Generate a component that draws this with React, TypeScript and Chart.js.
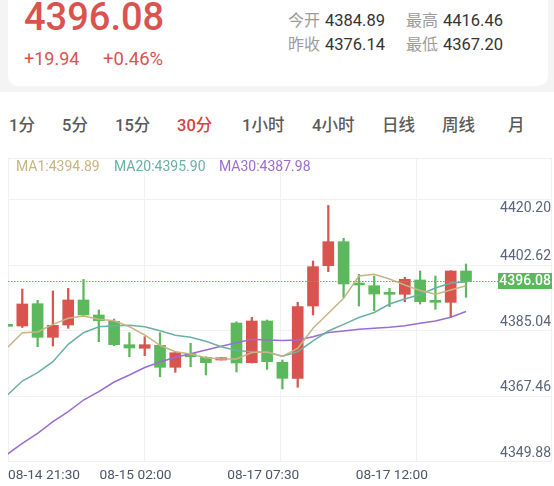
import React, { useEffect, useRef } from 'react';
import { Chart, registerables } from 'chart.js';

Chart.register(...registerables);

// ---- data (30-minute candles) ----
const opens = [4384.5, 4384.09, 4390.08, 4381.05, 4384.35, 4391.07, 4387.04, 4385.35, 4379.07, 4378.10, 4378.90, 4372.99, 4376.65, 4375.67, 4374.95, 4384.89, 4374.23, 4385.43, 4374.34, 4370.04, 4389.46, 4400.28, 4406.73, 4395.55, 4394.91, 4393.03, 4392.60, 4396.44, 4390.88, 4390.45, 4398.86];
const highs = [4384.6, 4394.02, 4390.99, 4393.49, 4394.21, 4396.60, 4388.39, 4385.97, 4382.29, 4381.21, 4382.29, 4377.18, 4379.44, 4375.84, 4375.57, 4385.20, 4386.42, 4385.70, 4374.95, 4390.45, 4401.55, 4416.46, 4407.63, 4397.97, 4397.52, 4394.21, 4397.17, 4398.86, 4397.52, 4398.95, 4400.74];
const lows = [4383.9, 4383.68, 4378.53, 4378.72, 4383.47, 4386.58, 4379.87, 4378.80, 4375.84, 4376.11, 4370.47, 4371.65, 4373.15, 4370.93, 4374.95, 4371.73, 4374.15, 4372.45, 4367.20, 4367.62, 4387.04, 4398.67, 4391.69, 4389.46, 4388.20, 4389.27, 4390.62, 4389.99, 4388.57, 4386.42, 4391.79];
const closes = [4384.0, 4390.00, 4381.05, 4384.27, 4391.07, 4387.04, 4385.51, 4379.07, 4378.18, 4379.07, 4372.99, 4376.91, 4375.84, 4374.23, 4375.57, 4374.15, 4385.43, 4374.50, 4370.04, 4389.27, 4400.02, 4406.73, 4395.37, 4395.10, 4392.68, 4392.60, 4396.63, 4390.62, 4390.45, 4398.86, 4396.08];

const ma1 = [4378.18, 4382.29, 4382.47, 4384.54, 4386.15, 4386.77, 4385.89, 4385.51, 4383.90, 4381.67, 4378.90, 4377.18, 4376.57, 4375.57, 4375.22, 4375.22, 4376.97, 4377.10, 4375.95, 4378.10, 4383.47, 4387.50, 4391.53, 4397.52, 4397.97, 4396.71, 4395.10, 4393.62, 4392.63, 4393.76, 4394.89];
const ma20 = [4365.42, 4369.31, 4371.54, 4374.50, 4379.17, 4382.29, 4383.90, 4384.17, 4384.27, 4383.90, 4382.82, 4381.59, 4381.05, 4379.98, 4378.53, 4377.51, 4377.18, 4377.02, 4375.95, 4377.18, 4380.06, 4382.74, 4384.54, 4386.37, 4387.72, 4390.00, 4391.34, 4392.55, 4394.29, 4395.64, 4395.90];
const ma30 = [4349.57, 4352.58, 4355.27, 4358.38, 4361.07, 4364.21, 4366.44, 4369.04, 4370.92, 4372.94, 4374.42, 4375.68, 4376.62, 4377.64, 4378.63, 4379.60, 4380.51, 4380.33, 4380.19, 4380.33, 4381.21, 4382.34, 4382.74, 4383.20, 4383.47, 4383.74, 4384.17, 4384.81, 4385.43, 4386.42, 4387.98];

const yTickValues = [4420.20, 4402.62, 4385.04, 4367.46, 4349.88];
const xTickLabels = ['08-14 21:30', '08-15 02:00', '08-17 07:30', '08-17 12:00'];
const xTickIndex = [2.4, 8.4, 16.75, 25.15];
const lastPrice = 4396.08;
const legendItems = ['MA1:4394.89', 'MA20:4395.90', 'MA30:4387.98'];
const tabs = ['1分', '5分', '15分', '30分', '1小时', '4小时', '日线', '周线', '月'];

const RED = '#d9534f';
const GREEN = '#5cb85c';
const C_MA1 = '#c9b483';
const C_MA20 = '#6cb0a4';
const C_MA30 = '#9b6dd2';
const FONT = 'Roboto, "Noto Sans CJK SC", sans-serif';

const overlay = {
  id: 'overlay',
  beforeDatasetsDraw(chart: any) {
    const { ctx, chartArea: a } = chart;
    ctx.save();
    ctx.strokeStyle = '#f1f1f1';
    ctx.lineWidth = 1;
    const rowH = 65.5;
    for (let i = 0; i < 5; i++) {
      const y = Math.round(a.bottom - i * rowH) - 0.5;
      ctx.beginPath();
      ctx.moveTo(a.left, y);
      ctx.lineTo(a.right, y);
      ctx.stroke();
    }
    for (let i = 0; i < 5; i++) {
      const x = Math.round(a.left + (i * a.width) / 4) + (i === 4 ? -0.5 : 0.5);
      ctx.beginPath();
      ctx.moveTo(x, a.top);
      ctx.lineTo(x, a.bottom);
      ctx.stroke();
    }
    ctx.restore();
  },
  afterDatasetsDraw(chart: any) {
    const { ctx, chartArea: a, scales } = chart;
    const ys = scales.y;
    const xs = scales.x;
    const rowH = 65.5;
    const paneTop = a.bottom - 4 * rowH;
    ctx.save();
    // y labels
    ctx.font = `14px ${FONT}`;
    ctx.fillStyle = '#5b6479';
    ctx.textAlign = 'right';
    ctx.textBaseline = 'middle';
    yTickValues.forEach((v) => {
      let y = ys.getPixelForValue(v);
      y = Math.max(y, paneTop + 8);
      y = Math.min(y, a.bottom - 8);
      ctx.fillText(v.toFixed(2), a.right - 1, y);
    });
    // last price line & tag
    const py = Math.round(ys.getPixelForValue(lastPrice)) + 0.5;
    ctx.strokeStyle = GREEN;
    ctx.lineWidth = 1;
    ctx.setLineDash([1.5, 1.5]);
    ctx.beginPath();
    ctx.moveTo(a.left, py);
    ctx.lineTo(a.right - 54, py);
    ctx.stroke();
    ctx.setLineDash([]);
    ctx.fillStyle = GREEN;
    ctx.fillRect(a.right - 54, py - 8.5, 54, 16);
    ctx.fillStyle = '#ffffff';
    ctx.font = `500 14px ${FONT}`;
    ctx.fillText(lastPrice.toFixed(2), a.right - 1, py);
    // x labels
    ctx.font = `13.7px ${FONT}`;
    ctx.fillStyle = '#4d5669';
    ctx.textAlign = 'left';
    xTickLabels.forEach((t, i) => {
      const cx = xs.getPixelForValue(xTickIndex[i]);
      const w = ctx.measureText(t).width;
      const left = Math.max(a.left, cx - w / 2);
      ctx.fillText(t, left, a.bottom + 14);
    });
    ctx.restore();
  },
};

function T(props: { x: number; y: number; size: number; color: string; weight?: number; children: any }) {
  return (
    <div
      style={{
        position: 'absolute',
        left: props.x,
        top: props.y,
        fontSize: props.size,
        lineHeight: `${props.size}px`,
        color: props.color,
        fontWeight: props.weight ?? 400,
        whiteSpace: 'nowrap',
      }}
    >
      {props.children}
    </div>
  );
}

export default function App() {
  const ref = useRef<HTMLCanvasElement>(null);

  useEffect(() => {
    const candleColors = opens.map((o, i) => (closes[i] >= o ? RED : GREEN));
    const chart = new Chart(ref.current as HTMLCanvasElement, {
      type: 'bar',
      data: {
        datasets: [
          {
            type: 'line',
            label: 'MA1',
            data: ma1.map((v, i) => ({ x: i, y: v })),
            borderColor: C_MA1,
            borderWidth: 1.5,
            pointRadius: 0,
            tension: 0,
            order: 0,
          } as any,
          {
            type: 'line',
            label: 'MA20',
            data: ma20.map((v, i) => ({ x: i, y: v })),
            borderColor: C_MA20,
            borderWidth: 1.5,
            pointRadius: 0,
            tension: 0,
            order: 0,
          } as any,
          {
            type: 'line',
            label: 'MA30',
            data: ma30.map((v, i) => ({ x: i, y: v })),
            borderColor: C_MA30,
            borderWidth: 1.5,
            pointRadius: 0,
            tension: 0,
            order: 0,
          } as any,
          {
            type: 'bar',
            label: 'body',
            data: opens.map((o, i) => ({ x: i, y: [o, closes[i]] })),
            backgroundColor: candleColors,
            borderWidth: 0,
            barThickness: 11,
            minBarLength: 2,
            grouped: false,
            order: 1,
          } as any,
          {
            type: 'bar',
            label: 'wick',
            data: lows.map((l, i) => ({ x: i, y: [l, highs[i]] })),
            backgroundColor: candleColors,
            borderWidth: 0,
            barThickness: 1.6,
            grouped: false,
            order: 2,
          } as any,
        ],
      },
      options: {
        animation: false,
        responsive: false,
        maintainAspectRatio: false,
        events: [],
        layout: { padding: { left: 8, right: 2, top: 0, bottom: 24 } },
        plugins: { legend: { display: false }, tooltip: { enabled: false } },
        scales: {
          x: { type: 'linear', min: 0.065, max: 35.62, display: false, offset: false },
          y: { type: 'linear', min: 4347.56, max: 4428.94, display: false },
        },
      } as any,
      plugins: [overlay as any],
    });
    return () => chart.destroy();
  }, []);

  const tabX = [9, 62, 115, 177, 242, 312, 382, 442, 508];
  const legendX = [16, 114, 219];
  const legendColors = [C_MA1, C_MA20, C_MA30];

  return (
    <div
      style={{
        position: 'absolute',
        left: 0,
        top: 0,
        width: 554,
        height: 486,
        background: '#ffffff',
        overflow: 'hidden',
        fontFamily: FONT,
      }}
    >
      <div style={{ position: 'absolute', left: 0, top: 0, width: 554, height: 92, background: '#f4f4f4' }} />
      <div style={{ position: 'absolute', left: 8, top: -14, width: 540, height: 100, background: '#ffffff', borderRadius: 10 }} />
      <T x={24} y={-2} size={38} color={RED} weight={500}>4396.08</T>
      <T x={24} y={50} size={18} color={RED}>+19.94</T>
      <T x={103} y={50} size={18.5} color={RED}>+0.46%</T>
      <T x={288} y={13} size={16} color="#9c9c9c">今开</T>
      <T x={325} y={13} size={16.5} color="#333333">4384.89</T>
      <T x={406} y={13} size={16} color="#9c9c9c">最高</T>
      <T x={443} y={13} size={16.5} color="#333333">4416.46</T>
      <T x={288} y={37} size={16} color="#9c9c9c">昨收</T>
      <T x={325} y={37} size={16.5} color="#333333">4376.14</T>
      <T x={406} y={37} size={16} color="#9c9c9c">最低</T>
      <T x={443} y={37} size={16.5} color="#333333">4367.20</T>

      {tabs.map((t, i) => (
        <T key={t} x={tabX[i]} y={118} size={16.5} color={t === '30分' ? '#d9413f' : '#5a5a5a'} weight={500}>
          {t}
        </T>
      ))}
      <div style={{ position: 'absolute', left: 8, top: 158, width: 544, height: 1, background: '#eeeeee' }} />

      <canvas
        ref={ref}
        width={554}
        height={327}
        style={{ position: 'absolute', left: 0, top: 159, width: 554, height: 327 }}
      />

      {legendItems.map((t, i) => (
        <T key={t} x={legendX[i]} y={159} size={14} color={legendColors[i]}>
          {t}
        </T>
      ))}
    </div>
  );
}
